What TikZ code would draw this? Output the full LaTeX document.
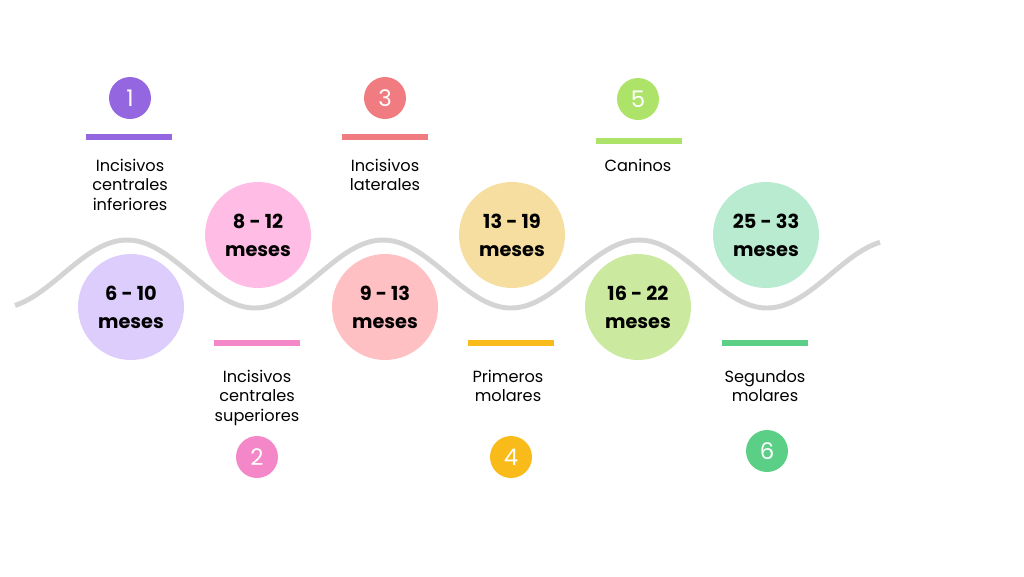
\documentclass[tikz,border=0pt]{standalone}
\usepackage{fontspec}
\setmainfont{Poppins}
\usepackage{tikz}
\definecolor{lav}{HTML}{DCCDFD}
\definecolor{pinkc}{HTML}{FFBDE6}
\definecolor{rosec}{HTML}{FFC0C3}
\definecolor{sand}{HTML}{F5DE9F}
\definecolor{lime}{HTML}{CBEAA0}
\definecolor{mint}{HTML}{B8EBD0}
\definecolor{purp}{HTML}{9466E0}
\definecolor{pinkd}{HTML}{F487C8}
\definecolor{redd}{HTML}{F07C82}
\definecolor{gold}{HTML}{F9BB1A}
\definecolor{limed}{HTML}{AEE36A}
\definecolor{greend}{HTML}{5CCF87}
\tikzset{every picture/.style={x=0.02cm,y=-0.02cm},
  months/.style={circle, minimum size=2.12cm, inner sep=0pt, align=center,
    font=\fontsize{11}{15.9}\selectfont\bfseries},
  badge/.style={circle, minimum size=0.84cm, inner sep=0pt, text=white,
    font=\fontsize{13}{13}\selectfont},
  stripe/.style={rectangle, minimum width=1.72cm, minimum height=0.12cm, inner sep=0pt},
  tooth/.style={align=center, anchor=north, inner sep=0pt,
    font=\fontsize{9.2}{11}\selectfont},
  wave/.style={line width=2.8pt, draw=black!17}}

\begin{document}
\begin{tikzpicture}
        \useasboundingbox (0,0) rectangle (1024,576);
        \draw[wave] plot[domain=15:880, samples=200, smooth]
          (\x, {274+34*cos(1.40625*(\x-255))});

        \node[months, fill=lav] (r1) at (131, 307) {6 - 10\\meses};
        \node[months, fill=pinkc] (r2) at (258, 235) {8 - 12\\meses};
        \node[months, fill=rosec] (r3) at (385, 307) {9 - 13\\meses};
        \node[months, fill=sand] (r4) at (512, 235) {13 - 19\\meses};
        \node[months, fill=lime] (r5) at (638, 307) {16 - 22\\meses};
        \node[months, fill=mint] (r6) at (766, 235) {25 - 33\\meses};

        \node[badge, fill=purp] (b1) at (130, 98) {1};
        \node[badge, fill=pinkd] (b2) at (257, 457) {2};
        \node[badge, fill=redd] (b3) at (385, 98) {3};
        \node[badge, fill=gold] (b4) at (511, 457) {4};
        \node[badge, fill=limed] (b5) at (638, 99) {5};
        \node[badge, fill=greend] (b6) at (767, 451) {6};

        \node[stripe, fill=purp] (s1) at (129, 137) {};
        \node[stripe, fill=pinkd] (s2) at (257, 343) {};
        \node[stripe, fill=redd] (s3) at (385, 137) {};
        \node[stripe, fill=gold] (s4) at (511, 343) {};
        \node[stripe, fill=limed] (s5) at (639, 141) {};
        \node[stripe, fill=greend] (s6) at (765, 343) {};

        \node[tooth] (l1) at (130, 159) {Incisivos\\centrales\\inferiores};
        \node[tooth] (l2) at (257, 370) {Incisivos\\centrales\\superiores};
        \node[tooth] (l3) at (385, 159) {Incisivos\\laterales};
        \node[tooth] (l4) at (508, 370) {Primeros\\molares};
        \node[tooth] (l5) at (638, 159) {Caninos};
        \node[tooth] (l6) at (765, 370) {Segundos\\molares};
      \end{tikzpicture}
\end{document}
